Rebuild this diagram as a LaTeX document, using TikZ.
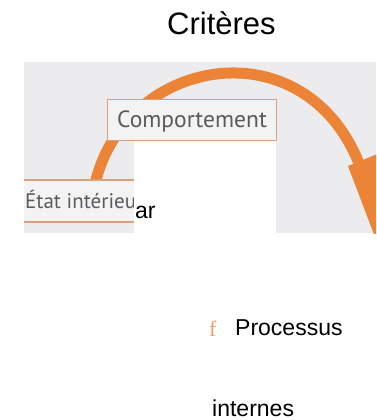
\documentclass[tikz,border=0pt]{standalone}
\usepackage{fontspec}
\setmainfont{Liberation Sans}
\newfontfamily\labelfont{PT Sans}
\newfontfamily\glyphfont{Liberation Serif}
\definecolor{scanbg}{HTML}{ECECEF}
\definecolor{boxbg}{HTML}{F3F3F4}
\definecolor{arcorange}{HTML}{EC8438}
\definecolor{frameline}{HTML}{DDA07C}
\definecolor{labelink}{HTML}{5A5A5E}
\tikzset{
  plaintext/.style={anchor=base west, inner sep=0pt, text=black,
    font=\fontsize{23}{23}\selectfont},
  scanlabel/.style={anchor=base west, inner sep=0pt, text=labelink,
    font=\labelfont\fontsize{21}{21}\selectfont},
  bigarc/.style={draw=arcorange, line width=11pt},
}
\begin{document}
\begin{tikzpicture}[x=1pt,y=-1pt]
\useasboundingbox (0,0) rectangle (376,420);
\fill[white] (0,0) rectangle (376,420);

% title
\node[plaintext, font=\fontsize{31}{31}\selectfont] (title) at (167,35) {Critères};

% scanned panel with the curved arrow
\fill[scanbg] (24,62) rectangle (376,233);
\begin{scope}
  \clip (24,62) rectangle (376,233);
  \draw[bigarc] (95,184) .. controls (125,55) and (306,25) .. (360,166);
  \fill[arcorange] (348,166) -- (392,148) -- (378,245) -- cycle;
\end{scope}

% "Comportement" box
\node[draw=frameline, fill=boxbg, line width=1.2pt, anchor=north west,
      minimum width=169pt, minimum height=41pt, inner sep=0pt] (compbox) at (107,99) {};
\node[scanlabel, font=\labelfont\fontsize{23.5}{23.5}\selectfont] (complabel) at (117,127) {Comportement};

% "Etat interieur" band, cut off by the blank patch
\fill[boxbg] (24,180) rectangle (134,222);
\draw[frameline, line width=1.6pt] (24,180) -- (134,180);
\draw[frameline, line width=1.6pt] (24,222) -- (134,222);
\node[scanlabel] (etatlabel) at (25,208) {État intérieu};

% blank patch over the scan
\fill[white] (134,141) rectangle (276,233);

% texts below
\node[plaintext] (ar) at (135,218) {ar};
\node[anchor=base west, inner sep=0pt, text=arcorange!80,
      font=\glyphfont\fontsize{22}{22}\selectfont] (fglyph) at (209,336) {f};
\node[plaintext] (proc) at (235,335) {Processus};
\node[plaintext] (intern) at (212,416) {internes};
\end{tikzpicture}
\end{document}
